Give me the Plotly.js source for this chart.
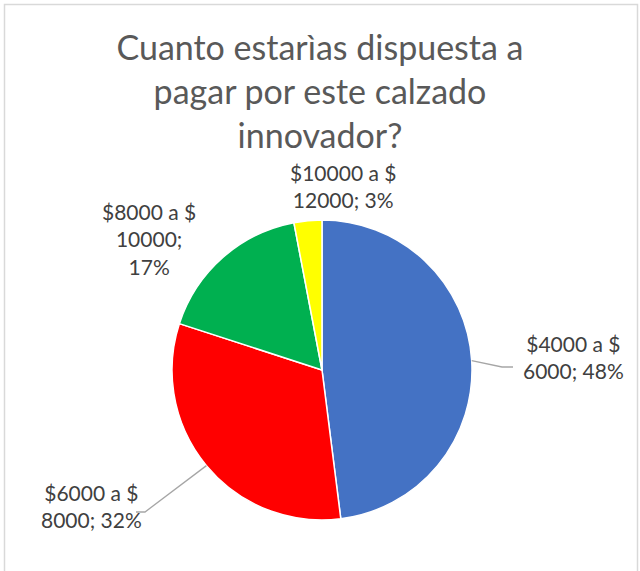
<!DOCTYPE html>
<html>
<head>
<meta charset="utf-8">
<script src="https://cdn.plot.ly/plotly-3.0.1.min.js"></script>
<style>html,body{margin:0;padding:0;background:#fff;}#chart{width:640px;height:571px;}</style>
</head>
<body>
<div id="chart"></div>
<script>
// ---- data ----
const categories = ["$4000 a $ 6000", "$6000 a $ 8000", "$8000 a $ 10000", "$10000 a $ 12000"];
const values = [48, 32, 17, 3];
const colors = ["#4472C4", "#FF0000", "#00B050", "#FFFF00"];
const titleLines = ["Cuanto estarìas dispuesta a", "pagar por este calzado", "innovador?"];
const wrapAfterSemicolon = [false, false, true, false];

// ---- layout geometry (pixels) ----
const W = 640, H = 571;
const cx = 322, cy = 370, R = 150;
const labelPos = [[573, 357], [91, 506], [149, 239], [343, 186]];
const leaderEnds = [[[502, 367], [513, 367]], [[145, 512], [136, 512]], null, null];

const total = values.reduce((a, b) => a + b, 0);
function labelText(i) {
  const parts = categories[i].split(" $ ");
  const pct = Math.round(values[i] / total * 100) + "%";
  const l1 = parts[0] + " $";
  if (wrapAfterSemicolon[i]) return l1 + "<br>" + parts[1] + ";<br>" + pct;
  return l1 + "<br>" + parts[1] + "; " + pct;
}
const px = x => x / W, py = y => 1 - y / H;

const annotations = [];
const shapes = [];
let cum = 0;
values.forEach((v, i) => {
  const mid = (cum + v / 2) / total * 2 * Math.PI;
  cum += v;
  annotations.push({
    text: labelText(i), x: px(labelPos[i][0]), y: py(labelPos[i][1]),
    xref: "paper", yref: "paper", showarrow: false, xanchor: "center", yanchor: "middle",
    font: {family: "Lato, 'Open Sans', sans-serif", size: 21, color: "#404040"}
  });
  if (leaderEnds[i]) {
    const sx = cx + R * Math.sin(mid), sy = cy - R * Math.cos(mid);
    const pts = [[sx, sy]].concat(leaderEnds[i]);
    const path = pts.map((p, k) => (k ? "L" : "M") + px(p[0]) + "," + py(p[1])).join(" ");
    shapes.push({type: "path", xref: "paper", yref: "paper", path: path,
      line: {color: "#A6A6A6", width: 1.3}});
  }
});
shapes.push({type: "rect", xref: "paper", yref: "paper",
  x0: px(4.5), x1: px(637.5), y0: py(4.5), y1: py(580),
  line: {color: "#D9D9D9", width: 1.5}});

const trace = {
  type: "pie", labels: categories, values: values, sort: false,
  direction: "clockwise", rotation: 0, textinfo: "none", hoverinfo: "label+percent",
  marker: {colors: colors, line: {color: "#FFFFFF", width: 1.5}},
  domain: {x: [px(cx - R), px(cx + R)], y: [py(cy + R), py(cy - R)]},
  automargin: false, showlegend: false
};

const layout = {
  width: W, height: H, margin: {l: 0, r: 0, t: 0, b: 0},
  paper_bgcolor: "#FFFFFF", showlegend: false,
  title: {text: titleLines.join("<br>"), x: 0.5, xanchor: "center",
    y: 1 - 60 / H, yref: "container", yanchor: "top",
    font: {family: "Lato, 'Open Sans', sans-serif", size: 34, color: "#595959"}},
  annotations: annotations, shapes: shapes
};
Plotly.newPlot("chart", [trace], layout, {displayModeBar: false, staticPlot: true});
</script>
</body>
</html>
